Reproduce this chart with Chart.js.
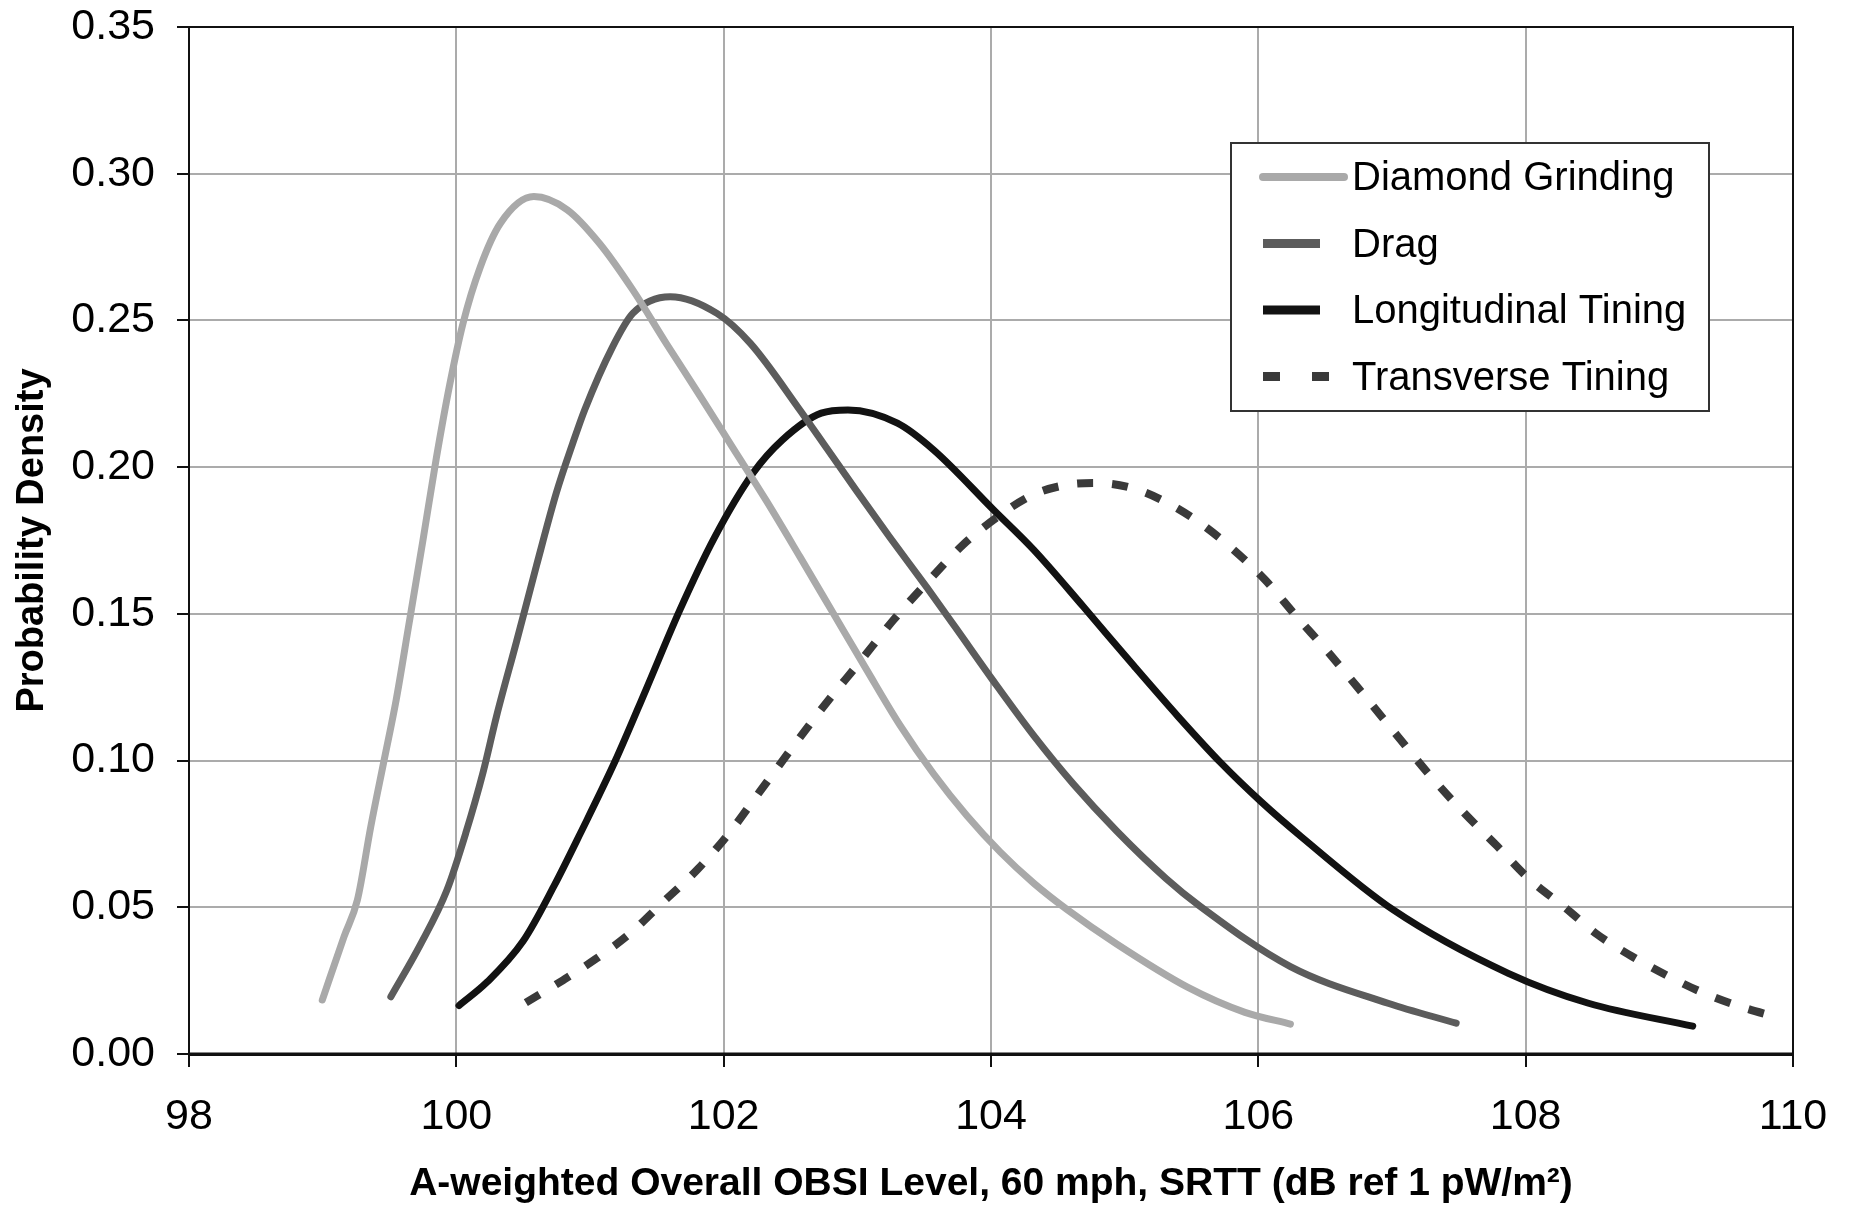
<!DOCTYPE html>
<html>
<head>
<meta charset="utf-8">
<script src="https://cdn.jsdelivr.net/npm/chart.js@4.4.1/dist/chart.umd.min.js"></script>
<style>
  html, body { margin: 0; padding: 0; background: #fff; }
  #wrap { width: 1851px; height: 1208px; }
</style>
</head>
<body>
<div id="wrap"><canvas id="densite" width="1851" height="1208"></canvas></div>
<script>
// Probability density of OBSI level per texture type

const seriesNames = ["Diamond Grinding", "Drag", "Longitudinal Tining", "Transverse Tining"];

const diamondX = [98.997, 99.16, 99.26, 99.36, 99.46, 99.55, 99.64, 99.75, 99.85, 99.95, 100.05, 100.18, 100.33, 100.58, 100.83, 101.07, 101.32, 101.57, 101.82, 102.07, 102.32, 102.57, 102.82, 103.07, 103.32, 103.57, 103.82, 104.07, 104.32, 104.57, 104.94, 105.47, 105.90, 106.24];
const diamondY = [0.0184, 0.040, 0.0525, 0.0775, 0.1002, 0.1207, 0.145, 0.175, 0.203, 0.228, 0.249, 0.2683, 0.2831, 0.2922, 0.2877, 0.2763, 0.2604, 0.2422, 0.2245, 0.2065, 0.1885, 0.1695, 0.1502, 0.1309, 0.1120, 0.0955, 0.0812, 0.0688, 0.0582, 0.0492, 0.0375, 0.0228, 0.0142, 0.0102];

const dragX = [99.51, 99.73, 99.93, 100.07, 100.20, 100.30, 100.45, 100.60, 100.75, 100.87, 100.96, 101.17, 101.32, 101.60, 101.95, 102.20, 102.57, 102.77, 102.99, 103.24, 103.52, 103.74, 104.02, 104.32, 104.62, 104.94, 105.31, 105.56, 106.24, 106.97, 107.48];
const dragY = [0.0195, 0.0372, 0.0559, 0.0752, 0.0960, 0.115, 0.1405, 0.1665, 0.1915, 0.208, 0.2195, 0.2411, 0.2524, 0.2581, 0.2524, 0.2422, 0.2195, 0.2065, 0.1922, 0.1763, 0.1590, 0.1450, 0.1270, 0.1085, 0.0918, 0.0760, 0.0598, 0.0505, 0.0298, 0.0173, 0.0105];

const longX = [100.02, 100.23, 100.50, 100.73, 100.93, 101.19, 101.42, 101.67, 101.93, 102.22, 102.44, 102.73, 102.93, 103.30, 103.57, 104.02, 104.32, 104.69, 105.07, 105.40, 105.72, 106.02, 106.32, 107.01, 107.87, 108.47, 109.25];
const longY = [0.0165, 0.0245, 0.0385, 0.0572, 0.0754, 0.1000, 0.1243, 0.1511, 0.1759, 0.198, 0.2093, 0.2184, 0.2195, 0.2150, 0.2059, 0.1854, 0.1718, 0.1525, 0.1322, 0.1150, 0.0992, 0.0860, 0.0741, 0.0491, 0.0275, 0.0173, 0.0095];

const transX = [100.52, 100.80, 101.05, 101.30, 101.55, 101.80, 102.04, 102.27, 102.50, 102.75, 103.02, 103.27, 103.54, 103.79, 104.05, 104.31, 104.56, 104.80, 105.06, 105.30, 105.55, 105.80, 106.05, 106.28, 106.54, 106.78, 107.03, 107.27, 107.53, 107.79, 108.02, 108.30, 108.54, 108.79, 109.05, 109.31, 109.57, 109.90];
const transY = [0.0175, 0.0252, 0.0326, 0.0411, 0.0519, 0.0627, 0.0752, 0.0894, 0.1036, 0.1186, 0.1337, 0.1479, 0.1616, 0.1735, 0.1831, 0.1905, 0.1939, 0.1946, 0.1928, 0.1883, 0.1814, 0.1724, 0.1616, 0.1494, 0.136, 0.1229, 0.1090, 0.0957, 0.0826, 0.0707, 0.0599, 0.0497, 0.0406, 0.0334, 0.0269, 0.0212, 0.0167, 0.0122];

const xAxisRange = [98, 110, 2];     // min, max, step
const yAxisRange = [0, 0.35, 0.05];

const FONT = "'Liberation Sans', Arial, sans-serif";

function toPoints(xs, ys) {
  return xs.map((x, i) => ({ x: x, y: ys[i] }));
}

// Cadre noir autour de la zone de tracé
const plotFrame = {
  id: "plotFrame",
  afterDatasetsDraw(chart) {
    const a = chart.chartArea;
    const ctx = chart.ctx;
    ctx.save();
    ctx.strokeStyle = "#111";
    ctx.lineWidth = 2;
    ctx.strokeRect(a.left, a.top, a.right - a.left, a.bottom - a.top);
    ctx.lineWidth = 3;
    ctx.beginPath();
    ctx.moveTo(a.left, a.bottom);
    ctx.lineTo(a.right, a.bottom);
    ctx.stroke();
    ctx.restore();
  }
};

// Légende encadrée dans le coin supérieur droit
const boxedLegend = {
  id: "boxedLegend",
  afterDatasetsDraw(chart) {
    const a = chart.chartArea;
    const ctx = chart.ctx;
    const left = a.right - 562, top = a.top + 116, w = 478, h = 268;
    ctx.save();
    ctx.fillStyle = "#fff";
    ctx.fillRect(left, top, w, h);
    ctx.strokeStyle = "#333";
    ctx.lineWidth = 2;
    ctx.strokeRect(left, top, w, h);
    chart.data.datasets.forEach((ds, i) => {
      const y = top + 34 + i * 66.5;
      const dashed = ds.borderDash && ds.borderDash.length;
      ctx.strokeStyle = ds.borderColor;
      ctx.lineWidth = i === 0 ? 8 : 9;
      ctx.lineCap = i === 0 ? "round" : "butt";
      ctx.setLineDash(dashed ? [17, 32] : []);
      ctx.beginPath();
      ctx.moveTo(left + 32, y);
      ctx.lineTo(left + (i === 0 ? 113 : (dashed ? 98 : 89)), y);
      ctx.stroke();
      ctx.setLineDash([]);
      ctx.fillStyle = "#000";
      ctx.font = "40px " + FONT;
      ctx.textBaseline = "middle";
      ctx.textAlign = "left";
      ctx.fillText(ds.label, left + 121, y + 2);
    });
    ctx.restore();
  }
};

const ctx = document.getElementById("densite");

new Chart(ctx, {
  type: "line",
  data: {
    datasets: [
      {
        label: seriesNames[0],
        data: toPoints(diamondX, diamondY),
        borderColor: "#a9a9a9",
        borderWidth: 7,
        borderCapStyle: "round"
      },
      {
        label: seriesNames[1],
        data: toPoints(dragX, dragY),
        borderColor: "#5c5c5c",
        borderWidth: 7,
        borderCapStyle: "round"
      },
      {
        label: seriesNames[2],
        data: toPoints(longX, longY),
        borderColor: "#121212",
        borderWidth: 7,
        borderCapStyle: "round"
      },
      {
        label: seriesNames[3],
        data: toPoints(transX, transY),
        borderColor: "#3a3a3a",
        borderWidth: 8,
        borderDash: [16, 19],
        borderCapStyle: "butt"
      }
    ]
  },
  options: {
    responsive: false,
    animation: false,
    devicePixelRatio: 1,
    layout: { padding: { left: 0, top: 27, right: 58, bottom: 0 } },
    elements: {
      point: { radius: 0 },
      line: { cubicInterpolationMode: "monotone", fill: false }
    },
    plugins: {
      legend: { display: false },
      tooltip: { enabled: false }
    },
    scales: {
      x: {
        type: "linear",
        min: xAxisRange[0],
        max: xAxisRange[1],
        afterFit: (s) => { s.height = 154; s.paddingLeft = 0; s.paddingRight = 0; },
        ticks: {
          stepSize: xAxisRange[2],
          color: "#000",
          padding: 24,
          font: { family: FONT, size: 43 }
        },
        grid: { color: "#ababab", lineWidth: 2, tickLength: 13, tickColor: "#111" },
        border: { color: "#111", width: 3 },
        title: {
          display: true,
          text: "A-weighted Overall OBSI Level, 60 mph, SRTT (dB ref 1 pW/m²)",
          color: "#000",
          font: { family: FONT, size: 39, weight: "bold" },
          padding: { top: 0, bottom: 0 }
        }
      },
      y: {
        type: "linear",
        min: yAxisRange[0],
        max: yAxisRange[1],
        afterFit: (s) => { s.width = 189; s.paddingTop = 0; s.paddingBottom = 0; },
        ticks: {
          stepSize: yAxisRange[2],
          color: "#000",
          padding: 22,
          font: { family: FONT, size: 43 },
          callback: (v) => v.toFixed(2)
        },
        grid: { color: "#ababab", lineWidth: 2, tickLength: 12, tickColor: "#111" },
        border: { color: "#111", width: 2 },
        title: {
          display: true,
          text: "Probability Density",
          color: "#000",
          font: { family: FONT, size: 38, weight: "bold" },
          padding: { top: 10, bottom: 0 }
        }
      }
    }
  },
  plugins: [plotFrame, boxedLegend]
});
</script>
</body>
</html>
